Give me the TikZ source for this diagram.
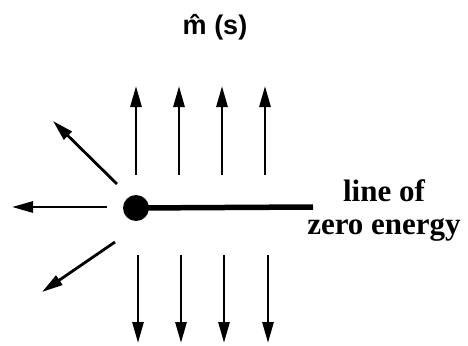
\documentclass[tikz,border=0pt]{standalone}
\usepackage{fontspec}
\setmainfont{Liberation Serif}
\setsansfont{Liberation Sans}
\usetikzlibrary{arrows.meta,positioning}
\tikzset{
    fieldarrow/.style={-{Triangle[length=21pt,width=11pt]},line width=2.8pt},
    zeroline/.style={line width=5.5pt},
    polepoint/.style={circle,fill=black,minimum size=26pt,inner sep=0pt},
    fieldlabel/.style={font=\sffamily\bfseries\fontsize{27}{30}\selectfont},
    linelabel/.style={font=\bfseries\fontsize{31}{33}\selectfont,align=center}
}
\begin{document}
\begin{tikzpicture}[x=1pt,y=-1pt]
    \useasboundingbox (0,0) rectangle (468,345);
    \node[polepoint] (pole) at (136,208) {};
    \coordinate (lineend) at (313,207);
    \draw[zeroline] (pole.center) -- (lineend);
    % vertical field arrows
    \foreach \i/\xu/\xd in {1/136/138,2/179/181,3/222/224,4/265/268}{
        \coordinate (up\i) at (\xu,175);
        \coordinate (uptip\i) at (\xu,86);
        \coordinate (dn\i) at (\xd,255);
        \coordinate (dntip\i) at (\xd,343);
        \draw[fieldarrow] (up\i) -- (uptip\i);
        \draw[fieldarrow] (dn\i) -- (dntip\i);
    }
    % arrows on the left of the pole
    \coordinate (ul) at (117,184);
    \coordinate (ultip) at (53,121);
    \coordinate (lt) at (107,207);
    \coordinate (lttip) at (12,207);
    \coordinate (ll) at (115,242);
    \coordinate (lltip) at (42,292);
    \draw[fieldarrow] (ul) -- (ultip);
    \draw[fieldarrow] (lt) -- (lttip);
    \draw[fieldarrow] (ll) -- (lltip);
    \node[fieldlabel] (mhat) at (215,27) {\^{m} (s)};
    \node[linelabel] (zerolabel) at (384,211) {line of\\zero energy};
\end{tikzpicture}
\end{document}
